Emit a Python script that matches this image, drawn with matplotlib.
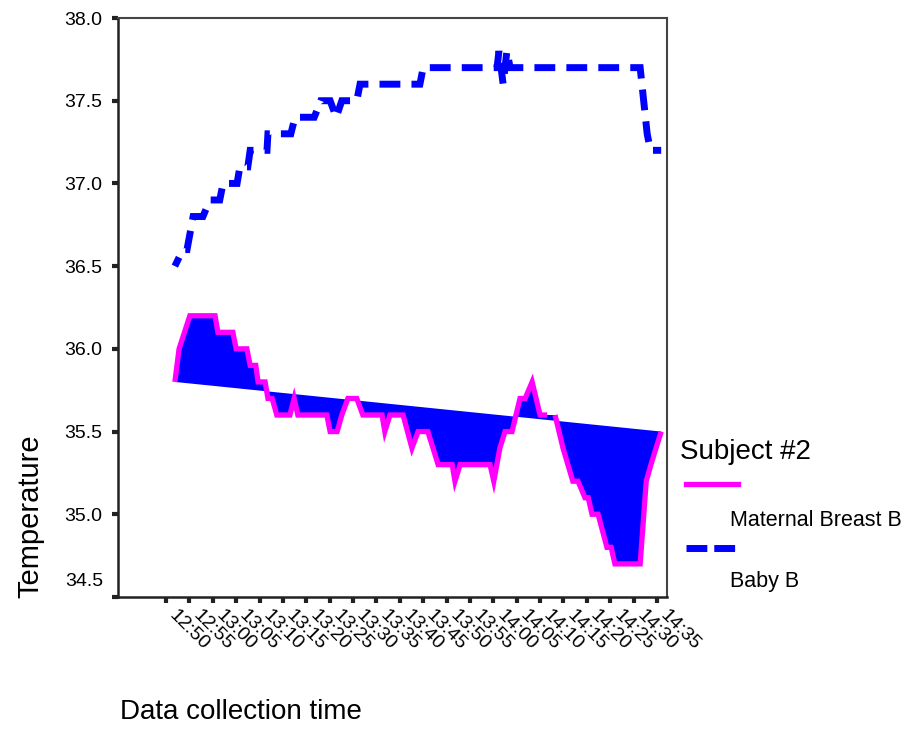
import numpy as np
import matplotlib.pyplot as plt
import matplotlib.transforms as mtransforms
from matplotlib.lines import Line2D

plt.rcParams['font.family'] = ['Liberation Sans', 'DejaVu Sans']

# minutes after 12:50
tick_labels = ['12:50', '12:55', '13:00', '13:05', '13:10', '13:15', '13:20', '13:25',
               '13:30', '13:35', '13:40', '13:45', '13:50', '13:55', '14:00', '14:05',
               '14:10', '14:15', '14:20', '14:25', '14:30', '14:35']
tick_pos = [5 * i for i in range(len(tick_labels))]
y_ticks = [34.5, 35.0, 35.5, 36.0, 36.5, 37.0, 37.5, 38.0]

# Maternal Breast B (nan = missing reading)
mom_t = [1.9, 2.8, 5.1, 10.5, 11.1, 14.3, 15.0, 17.3, 18.0, 19.2, 19.7, 21.2, 21.8, 22.7,
         23.7, 26.5, 27.4, 28.2, 34.4, 35.1, 36.6, 37.6, 38.9, 40.8, 42.1, 46.2, 46.8, 47.9,
         50.7, 52.6, 53.9, 56.0, 57.1, 58.2, 61.2, 61.8, 62.9, 69.3, 70.1, 71.4, 72.5, 74.0,
         75.7, 76.8, 78.3, 80.0, 81.5, 82.3, 83.2, 84.9, 87.0, 88.1, 89.6, 90.3, 91.1, 92.4,
         94.3, 95.2, 96.0, 101.4, 102.7, 103.7, 105.9]
mom_temp = [35.8, 36.0, 36.2, 36.2, 36.1, 36.1, 36.0, 36.0, 35.9, 35.9, 35.8, 35.8, 35.7, 35.7,
            35.6, 35.6, 35.7, 35.6, 35.6, 35.5, 35.5, 35.6, 35.7, 35.7, 35.6, 35.6, 35.5, 35.6,
            35.6, 35.4, 35.5, 35.5, 35.4, 35.3, 35.3, 35.2, 35.3, 35.3, 35.2, 35.4, 35.5, 35.5,
            35.7, 35.7, 35.8, 35.6, 35.6, np.nan, 35.6, 35.4, 35.2, 35.2, 35.1, 35.1, 35.0, 35.0,
            34.8, 34.8, 34.7, 34.7, 35.2, 35.3, 35.5]

# Baby B
baby_t = [1.9, 3.6, 4.5, 5.8, 7.9, 9.4, 11.5, 12.2, 15.2, 15.8, 17.5, 18.0, 21.6, 21.8,
          26.7, 27.6, 31.7, 33.1, 35.1, 36.4, 37.6, 40.8, 41.5, 54.3, 55.0, 70.8, 71.2,
          72.1, 72.9, 73.6, 101.4, 102.9, 103.6, 105.9]
baby_temp = [36.5, 36.6, 36.6, 36.8, 36.8, 36.9, 36.9, 37.0, 37.0, 37.1, 37.1, 37.2, 37.2, 37.3,
             37.3, 37.4, 37.4, 37.5, 37.5, 37.4, 37.5, 37.5, 37.6, 37.6, 37.7, 37.7, 37.8,
             37.6, 37.8, 37.7, 37.7, 37.3, 37.2, 37.2]

fig = plt.figure(figsize=(9.06, 7.29), dpi=100)
ax = fig.add_axes([0.1302, 0.1811, 0.606, 0.7942])

mom_t = np.array(mom_t)
mom_temp = np.array(mom_temp)
ok = ~np.isnan(mom_temp)
ax.fill(mom_t[ok], mom_temp[ok], color='#0000ff', linewidth=0)
ax.plot(mom_t, mom_temp, color='#ff00ff', linewidth=3.8,
        solid_joinstyle='miter', solid_capstyle='butt')
ax.plot(baby_t, baby_temp, color='#0000ff', linewidth=5, linestyle=(1.6, (3, 1.6)),
        dash_joinstyle='miter', dash_capstyle='butt')

ax.set_xlim(-10.27, 107.14)
ax.set_ylim(34.5, 38.0)
ax.set_yticks(y_ticks)
# bottom label is lifted above the corner, so it is drawn by hand
ax.set_yticklabels([''] + ['%.1f' % v for v in y_ticks[1:]], fontsize=14)
lift = mtransforms.ScaledTranslation(-0.15, 0.15, fig.dpi_scale_trans)
ax.text(0, y_ticks[0], '%.1f' % y_ticks[0], transform=ax.get_yaxis_transform() + lift,
        ha='right', va='center', fontsize=14)
ax.set_xticks(tick_pos)
ax.set_xticklabels([])
# rotated time labels, a little to the right of each tick
shift = mtransforms.ScaledTranslation(0.12, -0.10, fig.dpi_scale_trans)
for pos, lab in zip(tick_pos, tick_labels):
    ax.text(pos, 0, lab, transform=ax.get_xaxis_transform() + shift, rotation=-45,
            rotation_mode='anchor', ha='left', va='top', fontsize=14)
ax.tick_params(axis='both', direction='out', length=4.5, width=3, color='#222222')
ax.tick_params(axis='y', pad=7)

for side in ['left', 'bottom']:
    ax.spines[side].set_linewidth(1.8)
    ax.spines[side].set_color('#222222')
for side in ['top', 'right']:
    ax.spines[side].set_linewidth(1.5)
    ax.spines[side].set_color('#444444')

fig.text(30 / 906, 1 - 516 / 729, 'Temperature', rotation=90, ha='center', va='center',
         fontsize=21)
fig.text(120 / 906, 1 - 712 / 729, 'Data collection time', ha='left', va='center',
         fontsize=20)

# legend (drawn by hand, SPSS style)
fig.text(680 / 906, 1 - 452 / 729, 'Subject #2', ha='left', va='center', fontsize=20)
fig.add_artist(Line2D([686 / 906, 738 / 906], [1 - 484 / 729, 1 - 484 / 729],
                      color='#ff00ff', linewidth=3.8, transform=fig.transFigure))
fig.text(730 / 906, 1 - 521 / 729, 'Maternal Breast B', ha='left', va='center', fontsize=15.5)
fig.add_artist(Line2D([686 / 906, 738 / 906], [1 - 548 / 729, 1 - 548 / 729],
                      color='#0000ff', linewidth=5, dashes=(3, 1.0), dash_capstyle='butt',
                      transform=fig.transFigure))
fig.text(730 / 906, 1 - 582 / 729, 'Baby B', ha='left', va='center', fontsize=15.5)

fig.savefig('out.png', dpi=100)
